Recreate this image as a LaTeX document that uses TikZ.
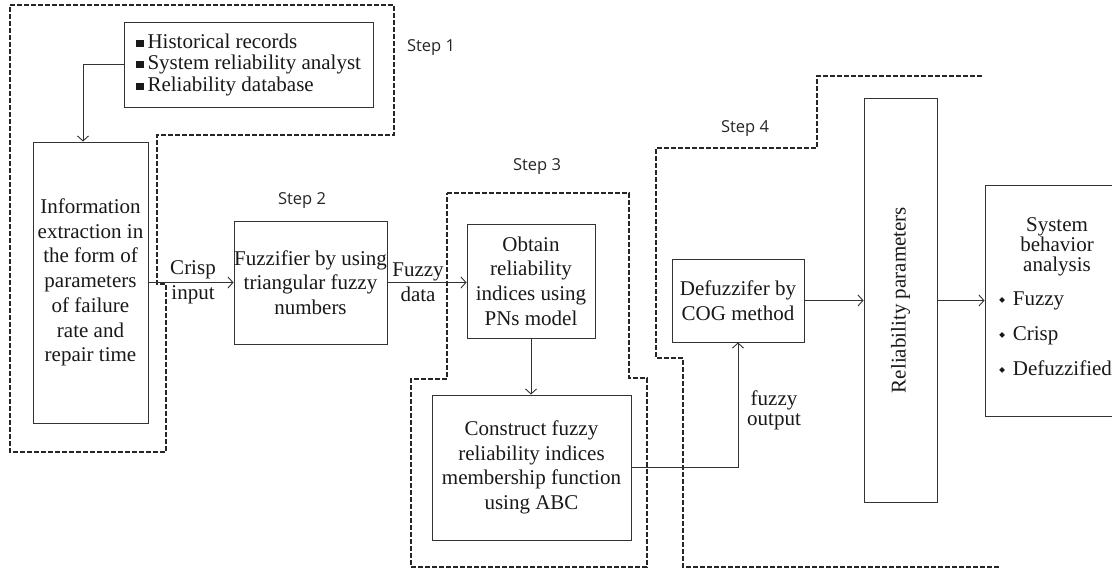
\documentclass[tikz,border=0pt]{standalone}
\usepackage{fontspec}
\setmainfont{Liberation Serif}
\newfontfamily\stepfont{Open Sans}
\usetikzlibrary{arrows.meta}
\newcommand\mainsz{\fontsize{21}{24.7}\selectfont}
\newcommand\sqb{\rule[1.5pt]{7.5pt}{7pt}\hspace{4pt}}
\newcommand\dmb{\raisebox{3pt}{\rotatebox{45}{\rule{4pt}{4pt}}}\hspace{8pt}}
\begin{document}
\begin{tikzpicture}[x=1pt,y=-1pt,
  box/.style={draw=black!80, line width=0.9pt, inner sep=0pt, align=center, font=\mainsz, text=black!90},
  lbl/.style={inner sep=0pt, align=center, font=\mainsz, text=black!90},
  arr/.style={draw=black!80, line width=0.9pt, -{Straight Barb[length=5pt,width=11pt]}},
  steplbl/.style={inner sep=0pt, font=\stepfont\fontsize{16.5}{20}\selectfont, text=black!85},
  stepline/.style={draw=black!85, line width=2.4pt, dash pattern=on 5pt off 2pt}
]
\clip (0,0) rectangle (1112,571);
\fill[white] (0,0) rectangle (1112,571);

% dashed step outlines
\draw[stepline] (10,5) -- (394,5) -- (394,135) -- (157,135) -- (157,284) -- (166,284) -- (166,452) -- (10,452) -- cycle;
\draw[stepline] (447,193) -- (629,193) -- (629,378) -- (647,378) -- (647,567) -- (411,567) -- (411,379) -- (447,379) -- cycle;
\draw[stepline] (982,76) -- (817,76) -- (817,148) -- (656,148) -- (656,358) -- (683,358) -- (683,567) -- (1000,567);

% step labels
\node[steplbl] (s1) at (431,48) {Step 1};
\node[steplbl] (s2) at (302,201) {Step 2};
\node[steplbl] (s3) at (537,167) {Step 3};
\node[steplbl] (s4) at (745,129) {Step 4};

% boxes
\node[box, minimum width=249, minimum height=85, align=left, font=\fontsize{21}{21.5}\selectfont] (src) at (248.5,64.5)
  {\sqb Historical records\\ \sqb System reliability analyst\\ \sqb Reliability database};
\node[box, minimum width=115, minimum height=281] (info) at (90.5,282.5)
  {Information\\ extraction in\\ the form of\\ parameters\\ of failure\\ rate and\\ repair time};
\node[box, minimum width=153, minimum height=123] (fuzz) at (310.5,282.5)
  {Fuzzifier by using\\ triangular fuzzy\\ numbers};
\node[box, minimum width=128, minimum height=114] (obtain) at (531,281)
  {Obtain\\ reliability\\ indices using\\ PNs model};
\node[box, minimum width=199, minimum height=145] (construct) at (531.5,467.5)
  {Construct fuzzy\\ reliability indices\\ membership function\\ using ABC};
\node[box, minimum width=132, minimum height=83] (defuzz) at (738,300.5)
  {Defuzzifer by\\ COG method};
\node[box, minimum width=73, minimum height=404] (relia) at (900.5,300)
  {\rotatebox{90}{Reliability parameters}};
\node[box, minimum width=145, minimum height=231] (sys) at (1057.5,300.5) {};
\node[lbl, font=\fontsize{21}{20}\selectfont] (systitle) at (1057,247) {System\\ behavior\\ analysis};
\node[lbl, align=left, anchor=west, font=\fontsize{21}{35}\selectfont] (sysitems) at (999,334)
  {\dmb Fuzzy\\ \dmb Crisp\\ \dmb Defuzzified};

% connectors
\draw[arr] (src.west) -| ([xshift=-7.5pt]info.north);
\draw[arr] (info.east) -- (fuzz.west);
\draw[arr] (fuzz.east) -- (obtain.west |- fuzz.east);
\draw[arr] (obtain.south) -- (obtain.south |- construct.north);
\draw[arr] (construct.east) -| (defuzz.south);
\draw[arr] (defuzz.east) -- (relia.west |- defuzz.east);
\draw[arr] (relia.east |- sys.west) -- (sys.west);

% connector labels
\node[lbl, font=\fontsize{21}{25}\selectfont] (crisp) at (193,282) {Crisp\\ input};
\node[lbl, font=\fontsize{21}{25}\selectfont] (fdata) at (418,282) {Fuzzy\\ data};
\node[lbl, font=\fontsize{21}{20}\selectfont] (fout) at (774,410) {fuzzy\\ output};
\end{tikzpicture}
\end{document}
